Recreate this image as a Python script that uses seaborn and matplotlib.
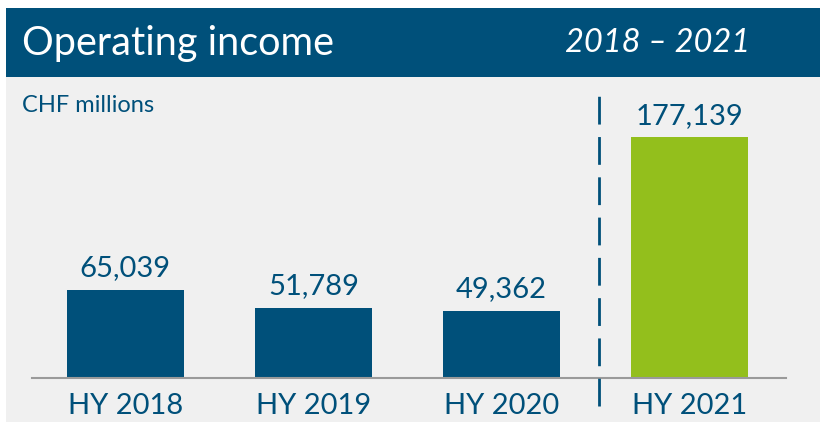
import matplotlib
matplotlib.use("Agg")
import matplotlib.pyplot as plt
import seaborn as sns
import pandas as pd
from matplotlib.patches import Rectangle

categories = ["HY 2018", "HY 2019", "HY 2020", "HY 2021"]
values = [65039, 51789, 49362, 177139]
value_labels = ["65,039", "51,789", "49,362", "177,139"]
title = "Operating income"
period = "2018 – 2021"
unit = "CHF millions"

BLUE = "#00507A"
GREEN = "#93BF1C"
BG = "#F0F0F0"
colors = [BLUE, BLUE, BLUE, GREEN]

sns.set_theme(style="white")
plt.rcParams["font.family"] = ["Lato", "DejaVu Sans"]

W, H = 828, 422
fig = plt.figure(figsize=(W / 100, H / 100), dpi=100)
fig.patch.set_facecolor("white")

# background axes for panel and header
bg = fig.add_axes([0, 0, 1, 1])
bg.set_xlim(0, W)
bg.set_ylim(H, 0)
bg.axis("off")
bg.add_patch(Rectangle((6, 76), 814, H - 76, facecolor=BG, edgecolor="none"))
bg.add_patch(Rectangle((6, 8), 814, 69, facecolor=BLUE, edgecolor="none"))
bg.text(22, 43, title, color="white", fontsize=28.5, va="center", ha="left")
bg.text(750, 43, period, color="white", fontsize=23.5, va="center", ha="right", style="italic")
bg.text(22, 106, unit, color=BLUE, fontsize=17, va="center", ha="left")

base = 378
top = 80
px_per_unit = 241 / 177139
ax = fig.add_axes([32 / W, (H - base) / H, 754 / W, (base - top) / H])
ax.set_facecolor("none")
ax.set_zorder(2)

df = pd.DataFrame({"cat": categories, "val": values})
sns.barplot(data=df, x="cat", y="val", hue="cat", palette=colors, legend=False,
            width=0.622, saturation=1, linewidth=0, ax=ax, zorder=2)

ax.set_xlim(-0.497, 3.514)
ax.set_ylim(0, (base - top) / px_per_unit)

for i, (v, lab) in enumerate(zip(values, value_labels)):
    ax.annotate(lab, (i, v), xytext=(0, 6), textcoords="offset points",
                ha="center", va="bottom", fontsize=21, color=BLUE)

ax.axvline(2.52, ymin=-28 / (base - top), ymax=(base - 92) / (base - top),
           color=BLUE, lw=2, dashes=(10, 4.5), clip_on=False, zorder=3)

for s in ["top", "right", "left"]:
    ax.spines[s].set_visible(False)
ax.spines["bottom"].set_color("#9A9A9A")
ax.spines["bottom"].set_linewidth(1.5)
ax.set_yticks([])
ax.set_xlabel("")
ax.set_ylabel("")
ax.tick_params(axis="x", length=0, pad=11, labelsize=21, labelcolor=BLUE)

fig.savefig("out.png", dpi=100, facecolor="white")
